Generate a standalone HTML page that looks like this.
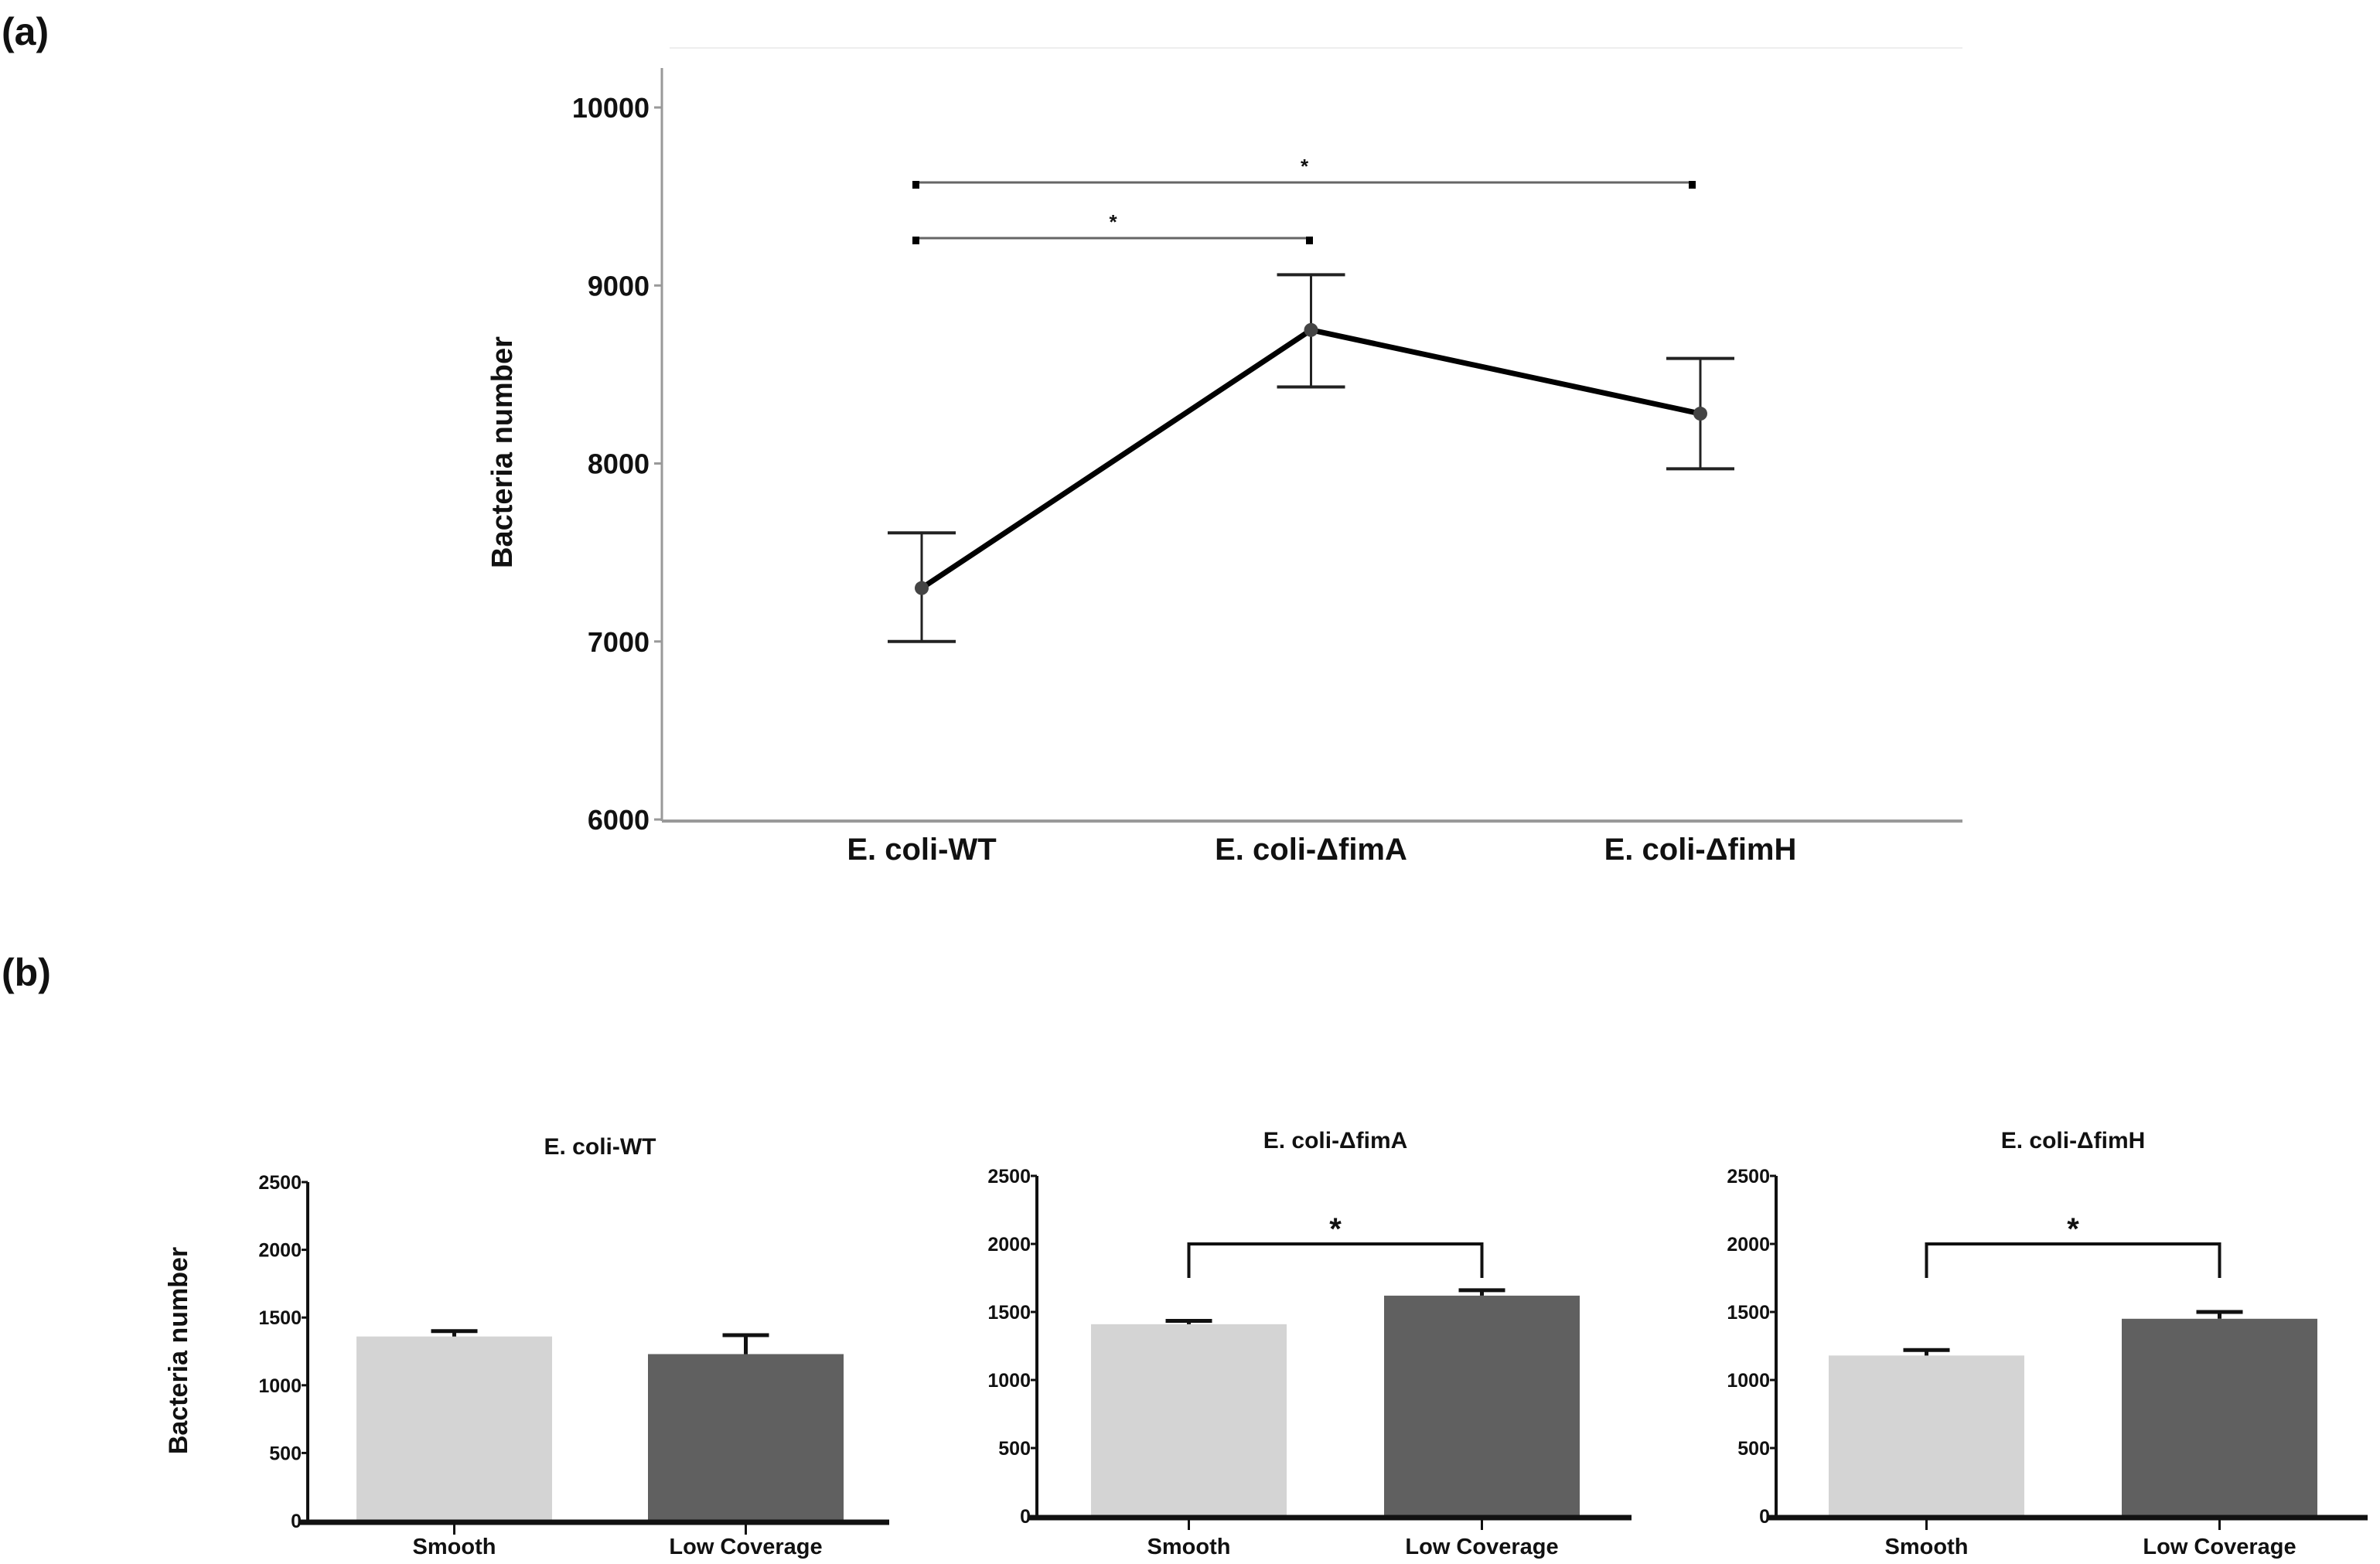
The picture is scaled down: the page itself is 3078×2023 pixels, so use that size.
<!DOCTYPE html>
<html><head><meta charset="utf-8"><style>
html,body{margin:0;padding:0;background:#fff;}
svg{display:block;}
text{font-family:"Liberation Sans Narrow","Liberation Sans",sans-serif;font-weight:bold;fill:#111;}
</style></head><body>
<svg id="fig" width="3078" height="2023" viewBox="0 0 3078 2023" xmlns="http://www.w3.org/2000/svg">
<text x="2" y="58" font-size="50">(a)</text>
<text x="2" y="1275" font-size="50">(b)</text>
<g id="pa"></g>
<g id="pb"></g>
</svg>
<script>
// Panel (a) data
const aCats = ["E. coli-WT", "E. coli-\u0394fimA", "E. coli-\u0394fimH"];
const aMeans = [7300, 8750, 8280];
const aLow = [7000, 8430, 7970];
const aHigh = [7610, 9060, 8590];
const aTicks = [6000, 7000, 8000, 9000, 10000];
// Panel (b) data
const bTitles = ["E. coli-WT", "E. coli-\u0394fimA", "E. coli-\u0394fimH"];
const bCats = ["Smooth", "Low Coverage"];
const bSmooth = [1360, 1410, 1180];
const bLow = [1230, 1620, 1450];
const bSmoothErr = [1400, 1435, 1220];
const bLowErr = [1370, 1660, 1500];
const bSig = [false, true, true];
const bTicks = [0, 500, 1000, 1500, 2000, 2500];

const NS = "http://www.w3.org/2000/svg";
function mk(parent, tag, attrs, txt){
  const e = document.createElementNS(NS, tag);
  for (const k in attrs) e.setAttribute(k, attrs[k]);
  if (txt !== undefined) e.textContent = txt;
  parent.appendChild(e);
  return e;
}
// ---- Panel a
const pa = document.getElementById('pa');
const ay = v => 1060 - (v - 6000) / 4000 * (1060 - 139);
const ax = i => 1192 + i * 503.5;
let el;
el = mk(pa, 'line', {x1:866, y1:62, x2:2538, y2:62, stroke:'#eee', 'stroke-width':2});


el = mk(pa, 'line', {x1:856, y1:88, x2:856, y2:1062, stroke:'#999', 'stroke-width':3});


el = mk(pa, 'line', {x1:856, y1:1062, x2:2538, y2:1062, stroke:'#999', 'stroke-width':4});


aTicks.forEach(t => {
  let l = mk(pa, 'line', {x1:846, y1:ay(t), x2:856, y2:ay(t), stroke:'#999', 'stroke-width':3});
  
  
  let tx = mk(pa, 'text', {x:840, y:ay(t)+13, 'font-size':36, 'text-anchor':'end'}, String(t));
  
  
});
el = mk(pa, 'text', {x:0, y:0, 'font-size':38, 'text-anchor':'middle', transform:'translate(662,585) rotate(-90)', 'font-family':'Liberation Sans'}, 'Bacteria number');


aCats.forEach((c, i) => {
  let tx = mk(pa, 'text', {x:ax(i), y:1112, 'font-size':40, 'text-anchor':'middle'}, c);
  
  
});
let pts = aMeans.map((v, i) => ax(i) + ',' + ay(v)).join(' ');
el = mk(pa, 'polyline', {points:pts, fill:'none', stroke:'#000', 'stroke-width':7, 'stroke-linejoin':'round'});


aMeans.forEach((v, i) => {
  const x = ax(i);
  let g = mk(pa, 'g', {});
  
  
  mk(g, 'line', {x1:x, y1:ay(aLow[i]), x2:x, y2:ay(aHigh[i]), stroke:'#222', 'stroke-width':3});
  mk(g, 'line', {x1:x-44, y1:ay(aLow[i]), x2:x+44, y2:ay(aLow[i]), stroke:'#222', 'stroke-width':4});
  mk(g, 'line', {x1:x-44, y1:ay(aHigh[i]), x2:x+44, y2:ay(aHigh[i]), stroke:'#222', 'stroke-width':4});
  let c = mk(pa, 'circle', {cx:x, cy:ay(v), r:9, fill:'#444'});
  
  
});
function abr(x1, x2, y, name){
  let g = mk(pa, 'g', {});
  
  
  mk(g, 'line', {x1:x1, y1:y, x2:x2, y2:y, stroke:'#666', 'stroke-width':3});
  mk(g, 'rect', {x:x1-5, y:y-2, width:9, height:10, fill:'#000'});
  mk(g, 'rect', {x:x2-5, y:y-2, width:9, height:10, fill:'#000'});
  mk(g, 'text', {x:(x1+x2)/2, y:y-12, 'font-size':26, 'text-anchor':'middle', 'font-family':'Liberation Sans'}, '*');
}
abr(1185, 1694, 308, 'sig-bracket-wt-fima');
abr(1185, 2189, 236, 'sig-bracket-wt-fimh');

// ---- Panel b
const pb = document.getElementById('pb');
const panels = [
  {axX:398, top:1529, base:1967, b1:461, b2:838, xl:387, xr:1150},
  {axX:1341, top:1521, base:1961, b1:1411, b2:1790, xl:1329, xr:2110},
  {axX:2297, top:1521, base:1961, b1:2365, b2:2744, xl:2285, xr:3062}
];
const bw = 253;
panels.forEach((p, k) => {
  const yv = v => p.base - v / 2500 * (p.base - p.top);
  let g = mk(pb, 'g', {});
  
  
  let t = mk(g, 'text', {x:(p.b1 + p.b2 + bw)/2, y:p.top - 36, 'font-size':30, 'text-anchor':'middle'}, bTitles[k]);
  
  
  const vals = [bSmooth[k], bLow[k]], errs = [bSmoothErr[k], bLowErr[k]], xs = [p.b1, p.b2];
  const cols = ['#d4d4d4', '#606060'];
  vals.forEach((v, j) => {
    const cx = xs[j] + bw/2;
    let r = mk(g, 'rect', {x:xs[j], y:yv(v), width:bw, height:p.base - yv(v), fill:cols[j]});
    
    
    let e = mk(g, 'path', {d:`M${cx},${yv(v)}V${yv(errs[j])}M${cx-30},${yv(errs[j])}H${cx+30}`, stroke:'#111', 'stroke-width':5, fill:'none'});
    
    
    let l = mk(g, 'text', {x:cx, y:2010, 'font-size':29, 'text-anchor':'middle'}, bCats[j]);
    
    
    mk(g, 'line', {x1:cx, y1:p.base, x2:cx, y2:p.base+18, stroke:'#111', 'stroke-width':3});
  });
  let ya = mk(g, 'line', {x1:p.axX, y1:p.top, x2:p.axX, y2:p.base, stroke:'#111', 'stroke-width':4});
  
  
  let xa = mk(g, 'line', {x1:p.xl, y1:p.base+2, x2:p.xr, y2:p.base+2, stroke:'#111', 'stroke-width':7});
  
  
  bTicks.forEach(tv => {
    mk(g, 'line', {x1:p.axX-8, y1:yv(tv), x2:p.axX, y2:yv(tv), stroke:'#111', 'stroke-width':3});
    let tl = mk(g, 'text', {x:p.axX-8, y:yv(tv)+9, 'font-size':25, 'text-anchor':'end'}, String(tv));
    
    
  });
  if (bSig[k]) {
    const c1 = p.b1 + bw/2, c2 = p.b2 + bw/2, y = yv(2000), yd = yv(1750);
    let br = mk(g, 'path', {d:`M${c1},${yd}V${y}H${c2}V${yd}`, stroke:'#111', 'stroke-width':4, fill:'none'});
    
    
    let st = mk(g, 'text', {x:(c1+c2)/2, y:y-6, 'font-size':40, 'text-anchor':'middle', 'font-family':'Liberation Sans'}, '*');
    
    
  }
});
el = mk(pb, 'text', {x:0, y:0, 'font-size':34, 'text-anchor':'middle', transform:'translate(242,1747) rotate(-90)', 'font-family':'Liberation Sans'}, 'Bacteria number');


</script>
</body></html>
